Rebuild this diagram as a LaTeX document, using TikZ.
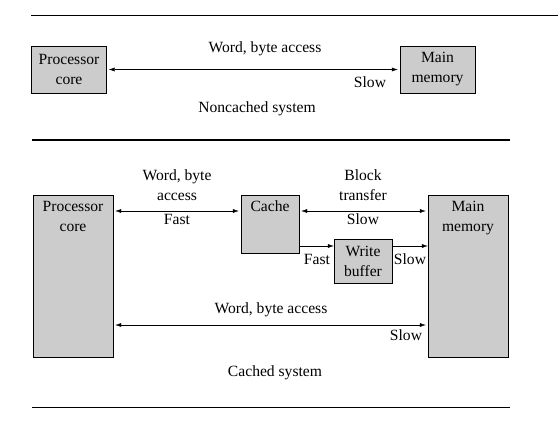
\documentclass[tikz,border=0pt]{standalone}
\usepackage{fontspec}
\setmainfont{Liberation Serif}
\usetikzlibrary{positioning,arrows.meta}

\begin{document}
\begin{tikzpicture}[x=1pt,y=-1pt,
	box/.style={draw,thin,fill=gray!40,inner sep=0pt},
	txt/.style={align=center,inner sep=1pt,font=\fontsize{15.6}{20}\selectfont},
	>={Latex[length=6pt,width=4pt]}]
	\useasboundingbox (0,0) rectangle (558,423);
	% rules
	\draw[thin] (31,15) -- (558,15);
	\draw[line width=2.2pt] (32,140) -- (510,140);
	\draw[thin] (32,407) -- (510,407);
	% noncached system
	\node[box,minimum width=75pt,minimum height=47pt] (pc1) at (69,69.5) {};
	\node[txt] at (pc1) {Processor\\core};
	\node[box,minimum width=75pt,minimum height=47pt] (mm1) at (437.5,69.5) {};
	\node[txt] at (mm1) {Main\\memory};
	\draw[<->,shorten <=2pt,shorten >=2pt] (pc1) -- (mm1);
	\node[txt] (wba1) at (265,49) {Word, byte access};
	\node[txt] (slow1) at (370,82) {Slow};
	\node[txt] (nc) at (257,109) {Noncached system};
	% cached system
	\node[box,minimum width=80pt,minimum height=162pt] (pc2) at (73,276) {};
	\node[txt,below=5pt of pc2.north] {Processor\\core};
	\node[box,minimum width=58pt,minimum height=58pt] (cache) at (270,224) {};
	\node[txt,below=5pt of cache.north] {Cache};
	\node[box,minimum width=80pt,minimum height=162pt] (mm2) at (468,276) {};
	\node[txt,below=5pt of mm2.north] {Main\\memory};
	\node[box,minimum width=58pt,minimum height=44pt] (wb) at (363,261) {};
	\node[txt] at (wb) {Write\\buffer};
	\draw[<->,shorten <=2pt,shorten >=2pt] (pc2.east |- 0,211) -- (cache.west |- 0,211);
	\draw[<->,shorten <=2pt,shorten >=2pt] (cache.east |- 0,211) -- (mm2.west |- 0,211);
	\draw[->] (cache.east |- 0,246) -- (wb.west |- 0,246);
	\draw[->] (wb.east |- 0,246) -- (mm2.west |- 0,246);
	\draw[<->,shorten <=2pt,shorten >=2pt] (pc2.east |- 0,325) -- (mm2.west |- 0,325);
	\node[txt] (wba2) at (177,185) {Word, byte\\access};
	\node[txt] (fast1) at (177,219) {Fast};
	\node[txt] (blk) at (363,185) {Block\\transfer};
	\node[txt] (slow2) at (363,219) {Slow};
	\node[txt] (fast2) at (317,259) {Fast};
	\node[txt] (slow3) at (410,259) {Slow};
	\node[txt] (wba3) at (271,310) {Word, byte access};
	\node[txt] (slow4) at (406,335) {Slow};
	\node[txt] (cs) at (275,373) {Cached system};
\end{tikzpicture}
\end{document}
